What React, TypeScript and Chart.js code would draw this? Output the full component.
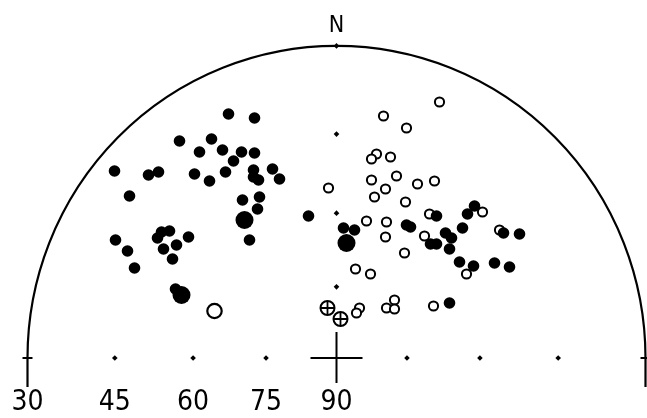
import { useEffect, useRef } from "react";
import { Chart, registerables } from "chart.js";

Chart.register(...registerables);

// Stereographic plot: primitive radius in plot units, 90 at centre, 30 at rim
const R = 309;
const Y_STRETCH = 1.01;
const RIM_ANGLE = 60;

const dipTicks = [30, 45, 60, 75, 90];
const dipTickLabels = ["30", "45", "60", "75", "90"];
const gridAngles = [15, 30, 45];
const northLabel = "N";

// plot-unit coordinates (x east of centre, y north of centre)
const filledSmall: [number, number][] = [
  [-108, 244], [-82, 240], [-157, 217], [-125, 219], [-137, 206], [-114, 208],
  [-95, 206], [-82, 205], [-103, 197], [-222, 187], [-188, 183], [-178, 186],
  [-142, 184], [-127, 177], [-111, 186], [-83, 188], [-83, 181], [-78, 178],
  [-64, 189], [-57, 179], [-207, 162], [-94, 158], [-77, 161], [-79, 149],
  [-87, 118], [-28, 142], [-221, 118], [-209, 107], [-202, 90], [-175, 126],
  [-167, 127], [-179, 120], [-148, 121], [-160, 113], [-173, 109], [-164, 99],
  [-161, 69], [7, 130], [18, 128], [70, 133], [74, 131], [100, 142],
  [109, 125], [115, 120], [94, 114], [100, 114], [113, 109], [126, 130],
  [131, 144], [138, 152], [123, 96], [137, 92], [158, 95], [173, 91],
  [183, 124], [113, 55], [167, 125],
];
const filledLarge: [number, number][] = [
  [-92, 138], [-155, 63], [10, 115],
];
const openSmall: [number, number][] = [
  [103, 256], [47, 242], [70, 230], [40, 204], [35, 199], [54, 201],
  [-8, 170], [35, 178], [60, 182], [49, 169], [38, 161], [81, 174],
  [98, 177], [69, 156], [30, 137], [50, 136], [49, 121], [93, 144],
  [88, 122], [68, 105], [146, 146], [163, 128], [19, 89], [34, 84],
  [130, 84], [97, 52], [50, 50], [58, 58], [58, 49], [23, 50], [20, 45],
];
const openLarge: [number, number][] = [[-122, 47]];
const crossed: [number, number][] = [[-9, 50], [4, 39]];

const rad = (d: number) => (d * Math.PI) / 180;
const proj = (a: number) => (R * Math.tan(rad(a / 2))) / Math.tan(rad(RIM_ANGLE / 2));
const toPts = (arr: [number, number][]) => arr.map(([x, y]) => ({ x, y }));

const FONT = '"DejaVu Sans", "Liberation Sans", sans-serif';

export default function App() {
  const ref = useRef<HTMLCanvasElement | null>(null);

  useEffect(() => {
    document.body.style.margin = "0";
    const canvas = ref.current;
    if (!canvas) return;

    const gridDots: { x: number; y: number }[] = [];
    gridAngles.forEach((a) => {
      gridDots.push({ x: -proj(a), y: 0 });
      gridDots.push({ x: proj(a), y: 0 });
      gridDots.push({ x: 0, y: proj(a) * Y_STRETCH });
    });
    gridDots.push({ x: 0, y: R * Y_STRETCH });

    const tickValues = dipTicks.map((d) => -proj(90 - d));

    const framePlugin = {
      id: "frame",
      beforeDatasetsDraw(chart: any) {
        const { ctx, scales } = chart;
        const xs = scales.x;
        const ys = scales.y;
        const cx = xs.getPixelForValue(0);
        const cy = ys.getPixelForValue(0);
        const rx = xs.getPixelForValue(R) - cx;
        const ry = cy - ys.getPixelForValue(R * Y_STRETCH);
        const below = ys.getPixelForValue(-29);
        ctx.save();
        ctx.strokeStyle = "#000";
        ctx.lineWidth = 2.2;
        ctx.beginPath();
        ctx.ellipse(cx, cy, rx, ry, 0, Math.PI, 2 * Math.PI);
        ctx.stroke();
        ctx.beginPath();
        ctx.moveTo(cx - rx, cy);
        ctx.lineTo(cx - rx, below);
        ctx.moveTo(cx + rx, cy);
        ctx.lineTo(cx + rx, below);
        ctx.stroke();
        ctx.lineWidth = 2;
        ctx.beginPath();
        ctx.moveTo(cx - rx - 5, cy);
        ctx.lineTo(cx - rx + 5, cy);
        ctx.moveTo(cx + rx - 5, cy);
        ctx.lineTo(cx + rx + 5, cy);
        const arm = xs.getPixelForValue(26) - cx;
        ctx.moveTo(cx - arm, cy);
        ctx.lineTo(cx + arm, cy);
        ctx.moveTo(cx, ys.getPixelForValue(26));
        ctx.lineTo(cx, ys.getPixelForValue(-25));
        ctx.stroke();
        ctx.restore();
      },
      afterDraw(chart: any) {
        const { ctx, scales } = chart;
        const xs = scales.x;
        const ys = scales.y;
        ctx.save();
        ctx.fillStyle = "#000";
        ctx.font = `condensed 23px ${FONT}`;
        ctx.textAlign = "center";
        ctx.textBaseline = "middle";
        ctx.fillText(northLabel, xs.getPixelForValue(0), ys.getPixelForValue(332));
        ctx.restore();
      },
    };

    const chart = new Chart(canvas, {
      type: "scatter",
      data: {
        datasets: [
          {
            label: "filled",
            data: toPts(filledSmall),
            pointStyle: "circle",
            pointRadius: 5.8,
            pointBackgroundColor: "#000",
            pointBorderWidth: 0,
          },
          {
            label: "filled large",
            data: toPts(filledLarge),
            pointStyle: "circle",
            pointRadius: 9,
            pointBackgroundColor: "#000",
            pointBorderWidth: 0,
          },
          {
            label: "crossed lines",
            data: toPts(crossed),
            pointStyle: "cross",
            pointRadius: 7,
            pointBorderColor: "#000",
            pointBorderWidth: 1.8,
          },
          {
            label: "crossed",
            data: toPts(crossed),
            pointStyle: "circle",
            pointRadius: 7,
            pointBackgroundColor: "#fff",
            pointBorderColor: "#000",
            pointBorderWidth: 2,
          },
          {
            label: "open",
            data: toPts(openSmall),
            pointStyle: "circle",
            pointRadius: 4.6,
            pointBackgroundColor: "#fff",
            pointBorderColor: "#000",
            pointBorderWidth: 2,
          },
          {
            label: "open large",
            data: toPts(openLarge),
            pointStyle: "circle",
            pointRadius: 7.2,
            pointBackgroundColor: "#fff",
            pointBorderColor: "#000",
            pointBorderWidth: 2.2,
          },
          {
            label: "grid",
            data: gridDots,
            pointStyle: "rectRot",
            pointRadius: 2.8,
            pointBackgroundColor: "#000",
            pointBorderWidth: 0,
          },
        ],
      },
      options: {
        animation: false,
        responsive: false,
        devicePixelRatio: 1,
        events: [],
        layout: { padding: 0, autoPadding: false },
        plugins: {
          legend: { display: false },
          tooltip: { enabled: false },
          title: { display: false },
        },
        scales: {
          x: {
            type: "linear",
            min: -336.5,
            max: 310.5,
            position: { y: 0 } as any,
            grid: { display: false, drawTicks: true, tickLength: 28 },
            border: { display: false },
            afterBuildTicks: (scale: any) => {
              scale.ticks = tickValues.map((v) => ({ value: v }));
            },
            afterFit: (scale: any) => {
              scale.paddingLeft = 0;
              scale.paddingRight = 0;
            },
            ticks: {
              autoSkip: false,
              maxRotation: 0,
              padding: 0,
              color: "#000",
              font: { family: FONT, size: 28, weight: "condensed" as any },
              callback: (_v: any, i: number) => dipTickLabels[i],
            },
          },
          y: {
            type: "linear",
            min: -60,
            max: 358,
            display: false,
          },
        },
      },
      plugins: [framePlugin],
    });

    return () => chart.destroy();
  }, []);

  return (
    <div style={{ width: 647, height: 418, position: "relative", background: "#fff" }}>
      <canvas ref={ref} width={647} height={418} style={{ display: "block" }} />
    </div>
  );
}
